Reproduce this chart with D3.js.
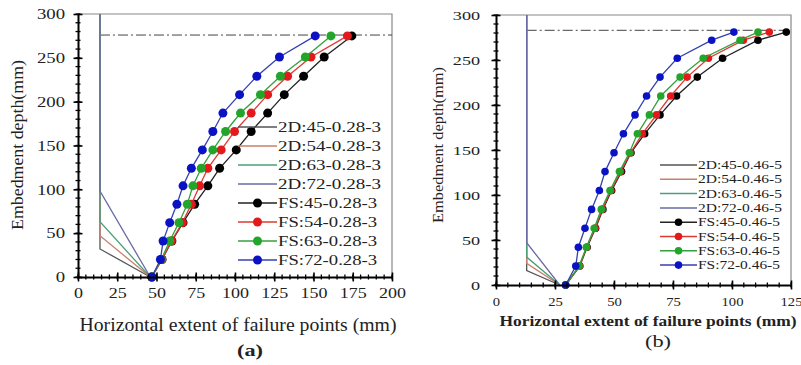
<!DOCTYPE html>
<html>
<head>
<meta charset="utf-8">
<script src="https://cdn.jsdelivr.net/npm/d3@7"></script>
<style>
  body { margin: 0; background: #fff; }
  text { font-family: "Liberation Serif", "Times New Roman", serif; fill: #222; }
</style>
</head>
<body>
<svg id="chart" width="801" height="365"></svg>
<script>
// ---------- data ----------
// panel (a): depth levels of the failure points and their horizontal extent (mm)
var levels_a = [0, 20, 41, 62, 83, 104, 124, 145, 166, 187, 208, 229, 251, 275];
var fs_a_45 = [47, 53.5, 59.8, 66.9, 74.3, 82.7, 90.2, 100.8, 110.3, 120.8, 131.4, 143.7, 156.8, 174.4];
var fs_a_54 = [47, 53.5, 59.5, 66.5, 72.2, 77.5, 82.7, 91.2, 99.7, 110.3, 120.8, 133.5, 148.4, 171.6];
var fs_a_63 = [47, 53, 58.4, 64.3, 69.6, 73.2, 78.5, 85.9, 94, 103.5, 116.2, 128.9, 144.8, 161.1];
var fs_a_72 = [47, 52.5, 54.2, 58.4, 63, 66.9, 72.2, 79.2, 85.9, 92.3, 102.9, 113.9, 128.3, 151.1];
// 2D wedge: wall at x, wall base depth for each case, toe point on the surface
var wall_a = 14;
var wall_base_a = [32, 47, 63, 98];
var toe_a = 46;
var embed_a = 276;
var labels_2d_a = ["2D:45-0.28-3", "2D:54-0.28-3", "2D:63-0.28-3", "2D:72-0.28-3"];
var labels_fs_a = ["FS:45-0.28-3", "FS:54-0.28-3", "FS:63-0.28-3", "FS:72-0.28-3"];

// panel (b)
var levels_b = [0, 21, 42, 63, 84, 105, 126, 147, 168, 189, 210, 231, 252, 272, 281];
var fs_b_45 = [29.5, 35.5, 38.6, 42.2, 45.3, 49, 53.2, 57.2, 63, 69.5, 76.5, 85.3, 96, 111, 123];
var fs_b_54 = [29.5, 35.4, 38.4, 42, 45, 48.7, 52.8, 57, 62, 68, 74, 81, 90, 104.8, 115.8];
var fs_b_63 = [29.5, 35.2, 38.3, 41.6, 44.6, 48.3, 52.3, 56.5, 59.9, 65, 69.8, 78, 87.8, 103.4, 111];
var fs_b_72 = [29.5, 33.8, 34.9, 37.7, 40.5, 43.8, 46.2, 50, 54, 58.9, 63.8, 69.5, 76.8, 91.4, 100.8];
var wall_b = 13;
var wall_base_b = [16, 24, 31, 47];
var toe_b = 27;
var embed_b = 283;
var labels_2d_b = ["2D:45-0.46-5", "2D:54-0.46-5", "2D:63-0.46-5", "2D:72-0.46-5"];
var labels_fs_b = ["FS:45-0.46-5", "FS:54-0.46-5", "FS:63-0.46-5", "FS:72-0.46-5"];

var x_ticks_a = [0, 25, 50, 75, 100, 125, 150, 175, 200];
var x_ticks_b = [0, 25, 50, 75, 100, 125];
var y_ticks = [0, 50, 100, 150, 200, 250, 300];

// ---------- styles ----------
var color_2d = ["#555555", "#c9806c", "#4c9f78", "#6a6aa6"];
var color_fs = ["#000000", "#e31a1c", "#22a52a", "#0a12c4"];
var color_fs_line = ["#222222", "#dd3a34", "#34a040", "#3440b0"];

var svg = d3.select("#chart");

// the figure is stretched sideways, so widen text glyphs by a factor
function stretch(sel, factor) {
    sel.each(function () {
        var w = this.getComputedTextLength();
        d3.select(this).attr("textLength", w * factor).attr("lengthAdjust", "spacingAndGlyphs");
    });
}

function draw_panel(cfg) {
    var x = d3.scaleLinear().domain([0, cfg.x_max]).range(cfg.x_range);
    var y = d3.scaleLinear().domain([0, 300]).range(cfg.y_range);
    var g = svg.append("g");

    // frame (top and right)
    g.append("path")
        .attr("d", "M" + x(0) + "," + y(300) + "H" + x(cfg.x_max) + "V" + y(0))
        .attr("fill", "none").attr("stroke", "#888").attr("stroke-width", 1.2);

    // embedment line (dash-dot)
    g.append("line")
        .attr("x1", x(cfg.wall)).attr("x2", x(cfg.x_max))
        .attr("y1", y(cfg.embed)).attr("y2", y(cfg.embed))
        .attr("stroke", "#444").attr("stroke-width", 1)
        .attr("stroke-dasharray", "10,3,2,3");

    // 2D wedge lines: wall down to its base, then to the toe
    var line_gen = d3.line().x(function (d) { return x(d[0]); }).y(function (d) { return y(d[1]); });
    cfg.wall_base.forEach(function (base, i) {
        g.append("path")
            .attr("d", line_gen([[cfg.wall, 300], [cfg.wall, base], [cfg.toe, 0]]))
            .attr("fill", "none").attr("stroke", color_2d[i]).attr("stroke-width", 1.3);
    });

    // FS failure surfaces
    cfg.fs.forEach(function (vals, i) {
        var pts = vals.map(function (v, k) { return [v, cfg.levels[k]]; });
        g.append("path")
            .attr("d", line_gen(pts))
            .attr("fill", "none").attr("stroke", color_fs_line[i]).attr("stroke-width", 1.3);
        g.selectAll(null).data(pts).enter().append("circle")
            .attr("cx", function (d) { return x(d[0]); })
            .attr("cy", function (d) { return y(d[1]); })
            .attr("r", cfg.marker_r)
            .attr("fill", color_fs[i]);
    });

    // minor ticks
    var minor_x = d3.range(0, cfg.x_max + 0.1, 5);
    var minor_y = d3.range(0, 301, 10);
    g.selectAll(null).data(minor_x).enter().append("line")
        .attr("x1", function (d) { return x(d); }).attr("x2", function (d) { return x(d); })
        .attr("y1", y(0) - 2.5).attr("y2", y(0) + 2.5)
        .attr("stroke", "#000").attr("stroke-width", 1.3);
    g.selectAll(null).data(minor_y).enter().append("line")
        .attr("y1", function (d) { return y(d); }).attr("y2", function (d) { return y(d); })
        .attr("x1", x(0) - 2.5).attr("x2", x(0) + 2.5)
        .attr("stroke", "#000").attr("stroke-width", 1.3);

    // axes
    var x_axis = g.append("g").attr("transform", "translate(0," + y(0) + ")")
        .call(d3.axisBottom(x).tickValues(cfg.x_ticks).tickSize(0).tickSizeOuter(0).tickPadding(cfg.x_pad));
    var y_axis = g.append("g").attr("transform", "translate(" + x(0) + ",0)")
        .call(d3.axisLeft(y).tickValues(y_ticks).tickSize(0).tickSizeOuter(0).tickPadding(cfg.y_pad));
    [x_axis, y_axis].forEach(function (ax) {
        ax.select(".domain").attr("stroke", "#000").attr("stroke-width", 2);
        ax.selectAll(".tick text")
            .style("font-family", "'Liberation Serif', serif")
            .style("font-size", cfg.tick_font + "px").attr("fill", "#222");
    });
    stretch(x_axis.selectAll(".tick text"), cfg.x_tick_stretch);
    stretch(y_axis.selectAll(".tick text"), cfg.y_tick_stretch);
    x_axis.selectAll(".tick line").attr("y1", -4.5).attr("y2", 4.5).attr("stroke", "#000").attr("stroke-width", 1.6);
    y_axis.selectAll(".tick line").attr("x1", -4.5).attr("x2", 4.5).attr("stroke", "#000").attr("stroke-width", 1.6);

    // axis titles
    g.append("text")
        .attr("x", cfg.x_title[0]).attr("y", cfg.x_title[1])
        .attr("text-anchor", "middle")
        .attr("textLength", cfg.x_title[2]).attr("lengthAdjust", "spacingAndGlyphs")
        .style("font-size", cfg.x_title[3] + "px")
        .style("font-weight", cfg.x_title_bold ? "bold" : "normal")
        .text("Horizontal extent of failure points (mm)");
    g.append("text")
        .attr("transform", "translate(" + cfg.y_title[0] + "," + cfg.y_title[1] + ") rotate(-90)")
        .attr("text-anchor", "middle")
        .attr("textLength", cfg.y_title[2]).attr("lengthAdjust", "spacingAndGlyphs")
        .style("font-size", cfg.y_title[3] + "px")
        .text("Embedment depth(mm)");
    g.append("text")
        .attr("x", cfg.tag[0]).attr("y", cfg.tag[1])
        .attr("text-anchor", "middle")
        .attr("textLength", cfg.tag[3]).attr("lengthAdjust", "spacingAndGlyphs")
        .style("font-size", cfg.tag[2] + "px")
        .style("font-weight", cfg.tag_bold ? "bold" : "normal")
        .text(cfg.tag_text);

    // legend
    var lg = cfg.legend;
    var entries = cfg.labels_2d.map(function (t, i) { return { label: t, type: "2d", i: i }; })
        .concat(cfg.labels_fs.map(function (t, i) { return { label: t, type: "fs", i: i }; }));
    entries.forEach(function (e, k) {
        var yy = lg.y + k * lg.step;
        g.append("line")
            .attr("x1", lg.x).attr("x2", lg.x + lg.len)
            .attr("y1", yy).attr("y2", yy)
            .attr("stroke", e.type === "2d" ? color_2d[e.i] : color_fs_line[e.i])
            .attr("stroke-width", 1.5);
        if (e.type === "fs") {
            g.append("circle").attr("cx", lg.x + lg.len / 2).attr("cy", yy)
                .attr("r", cfg.marker_r).attr("fill", color_fs[e.i]);
        }
        g.append("text")
            .attr("x", lg.x + lg.len + 1).attr("y", yy)
            .attr("dy", "0.35em")
            .attr("textLength", e.type === "2d" ? lg.w_2d : lg.w_fs)
            .attr("lengthAdjust", "spacingAndGlyphs")
            .style("font-size", lg.font + "px")
            .attr("fill", "#333")
            .text(e.label);
    });
}

draw_panel({
    x_max: 200, x_range: [78, 392], y_range: [277, 14],
    levels: levels_a, fs: [fs_a_45, fs_a_54, fs_a_63, fs_a_72],
    wall: wall_a, wall_base: wall_base_a, toe: toe_a, embed: embed_a,
    labels_2d: labels_2d_a, labels_fs: labels_fs_a,
    x_ticks: x_ticks_a, marker_r: 4.5, tick_font: 15, x_pad: 10, y_pad: 13,
    x_tick_stretch: 1.2, y_tick_stretch: 1.25,
    x_title: [238, 331, 317, 18], x_title_bold: false,
    y_title: [23, 145, 170, 16],
    tag: [250, 356, 17, 26], tag_bold: true, tag_text: "(a)",
    legend: { x: 238, y: 127, step: 19, len: 39, font: 15, w_2d: 103, w_fs: 99 }
});

draw_panel({
    x_max: 125, x_range: [496, 791], y_range: [285, 15],
    levels: levels_b, fs: [fs_b_45, fs_b_54, fs_b_63, fs_b_72],
    wall: wall_b, wall_base: wall_base_b, toe: toe_b, embed: embed_b,
    labels_2d: labels_2d_b, labels_fs: labels_fs_b,
    x_ticks: x_ticks_b, marker_r: 3.8, tick_font: 12.5, x_pad: 12, y_pad: 16,
    x_tick_stretch: 1.17, y_tick_stretch: 1.45,
    x_title: [648, 326, 297, 15], x_title_bold: true,
    y_title: [443, 145, 156, 15],
    tag: [658, 347, 17, 26], tag_bold: false, tag_text: "(b)",
    legend: { x: 660, y: 165, step: 14.3, len: 37, font: 11.5, w_2d: 84, w_fs: 82 }
});
</script>
</body>
</html>
